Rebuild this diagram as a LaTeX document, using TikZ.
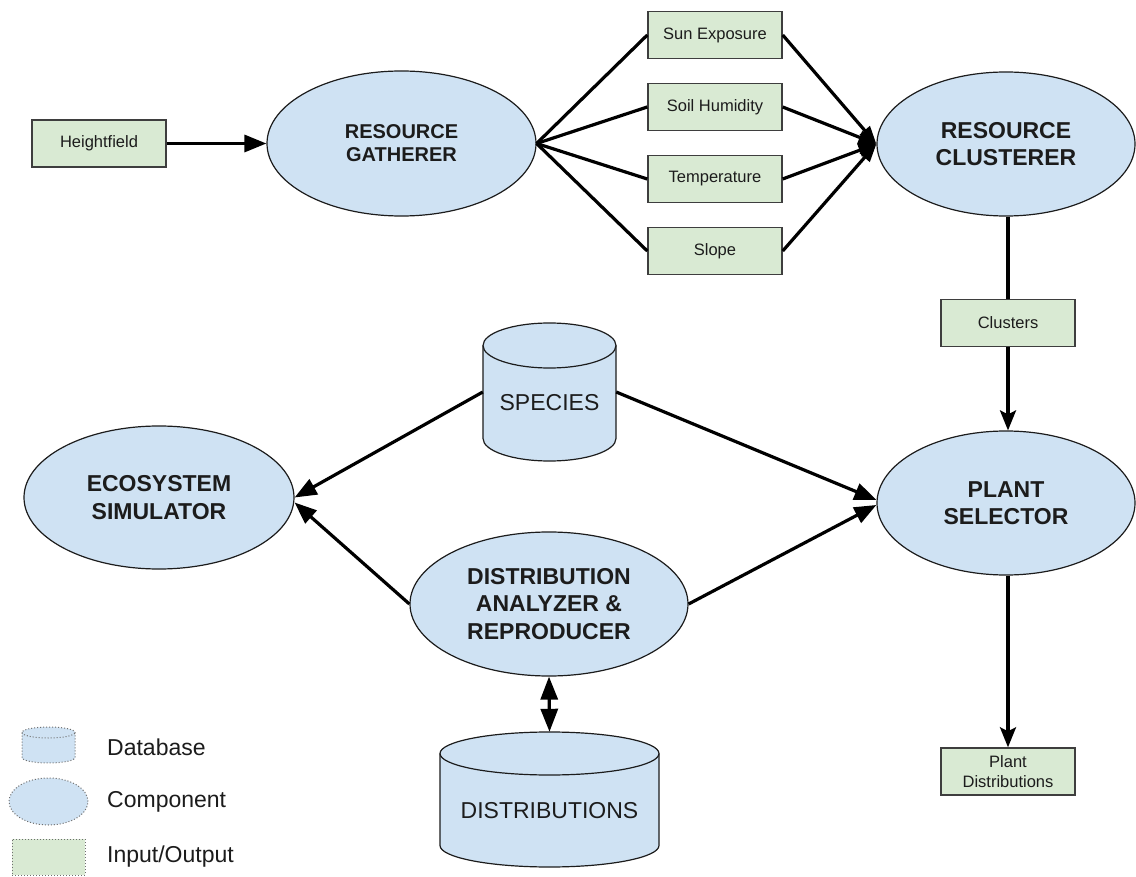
\documentclass[tikz,border=0pt]{standalone}
\usepackage{fontspec}
\setmainfont{Liberation Sans}
\usetikzlibrary{shapes.geometric,arrows.meta}

\definecolor{compfill}{HTML}{CFE2F3}
\definecolor{iofill}{HTML}{D9EAD3}
\definecolor{ink}{HTML}{1C1C1C}
\definecolor{legline}{HTML}{6F6F6F}

% Cylinder outline: #1 style, #2 centre x, #3 top y, #4 bottom y, #5 x radius, #6 cap y radius
\newcommand{\dbdraw}[6]{%
  \path[#1] (#2-#5,#3-#6) -- (#2-#5,#4+#6)
    arc[start angle=180,end angle=360,x radius=#5,y radius=#6]
    -- (#2+#5,#3-#6)
    arc[start angle=0,end angle=180,x radius=#5,y radius=#6] -- cycle;
  \path[#1,fill=none] (#2-#5,#3-#6)
    arc[start angle=180,end angle=360,x radius=#5,y radius=#6];
}

\begin{document}
\begin{tikzpicture}[x=1pt,y=1pt,
  comp/.style={ellipse, draw=ink, line width=1.2pt, fill=compfill, inner sep=0pt,
    align=center, text=ink, font=\bfseries\fontsize{23}{27.5}\selectfont},
  iobox/.style={rectangle, draw=ink!85, line width=1.4pt, fill=iofill,
    minimum width=134pt, minimum height=47pt, inner sep=0pt, align=center,
    text=ink, font=\fontsize{16.5}{20}\selectfont},
  dbarea/.style={rectangle, inner sep=0pt},
  dblabel/.style={text=ink, inner sep=0pt, font=\fontsize{23}{27}\selectfont},
  dbshape/.style={draw=ink, line width=1.2pt, fill=compfill},
  conn/.style={draw=black, line width=3.2pt},
  arr/.style={conn, -{Triangle[length=22pt,width=17pt]}},
  farr/.style={conn, -{Triangle[length=18pt,width=13pt]}},
  sarr/.style={conn, -{Stealth[length=20pt,width=16pt,inset=4pt]}},
  legshape/.style={draw=legline, line width=1pt, dotted},
  legtext/.style={anchor=west, text=ink, inner sep=0pt, font=\fontsize{23}{27}\selectfont}
]
\fill[white] (0,0) rectangle (1136,-877);
\useasboundingbox (0,0) rectangle (1136,-877);

% ---- resource stage ----
\node[iobox] (hf) at (99,-143.5) {Heightfield};
\node[comp, minimum width=269pt, minimum height=145pt,
      font=\bfseries\fontsize{20}{23}\selectfont] (gath) at (401.5,-143.5) {RESOURCE\\GATHERER};

\node[iobox] (sun)   at (715,-35)  {Sun Exposure};
\node[iobox] (soil)  at (715,-107) {Soil Humidity};
\node[iobox] (temp)  at (715,-179) {Temperature};
\node[iobox] (slope) at (715,-251) {Slope};

\node[comp, minimum width=258pt, minimum height=144pt] (clus) at (1006,-144) {RESOURCE\\CLUSTERER};

\draw[arr] (hf.east) -- (gath.west);
\foreach \b in {sun,soil,temp,slope}{
  \draw[conn] (gath.east) -- (\b.west);
  \draw[farr] (\b.east) -- (clus.west);
}

% ---- selection stage ----
\node[iobox] (clusters) at (1008,-323) {Clusters};
\node[comp, minimum width=258pt, minimum height=144pt] (sel) at (1006,-503) {PLANT\\SELECTOR};
\node[iobox] (pd) at (1008,-771.5) {Plant\\Distributions};

\draw[conn] (clus.south -| clusters.north) -- (clusters.north);
\draw[sarr] (clusters.south) -- (clusters.south |- sel.north);
\draw[sarr] (sel.south -| pd.north) -- (pd.north);

% ---- databases ----
\node[dbarea, minimum width=133pt, minimum height=138pt] (spec) at (549.5,-392) {};
\dbdraw{dbshape}{549.5}{-323}{-461}{66.5}{22.5}
\node[dblabel] (spectext) at (549.5,-403) {SPECIES};

\node[dbarea, minimum width=219pt, minimum height=135pt] (dist) at (549.5,-799.5) {};
\dbdraw{dbshape}{549.5}{-732}{-867}{109.5}{21.5}
\node[dblabel] (disttext) at (549.5,-811) {DISTRIBUTIONS};

% ---- analysis and simulation ----
\node[comp, minimum width=278pt, minimum height=144pt] (ana) at (549,-604)
  {DISTRIBUTION\\ANALYZER \&\\REPRODUCER};
\node[comp, minimum width=270pt, minimum height=143pt] (eco) at (159,-497.5)
  {ECOSYSTEM\\SIMULATOR};

\draw[arr] (spec.west) -- (eco.east);
\draw[arr] (ana.west) -- ([yshift=-5pt]eco.east);
\draw[arr] (spec.east) -- ([yshift=3pt]sel.west);
\draw[arr] (ana.east) -- ([yshift=-2pt]sel.west);
\draw[conn, {Triangle[length=23pt,width=17pt]}-{Triangle[length=23pt,width=17pt]}]
  (ana.south) -- (dist.north);

% ---- legend ----
\node[dbarea, minimum width=53pt, minimum height=36pt] (legdb) at (48.5,-745) {};
\dbdraw{legshape, fill=compfill}{48.5}{-727}{-763}{26.5}{5.5}
\node[ellipse, legshape, fill=compfill, inner sep=0pt, minimum width=79pt, minimum height=47pt]
  (legcomp) at (48.5,-801.5) {};
\node[rectangle, legshape, fill=iofill, inner sep=0pt, minimum width=73pt, minimum height=36pt]
  (legio) at (48.5,-857) {};
\node[legtext] (legdbtext)   at (107,-747) {Database};
\node[legtext] (legcomptext) at (107,-802) {Component};
\node[legtext] (legiotext)   at (107,-857) {Input/Output};
\end{tikzpicture}
\end{document}
